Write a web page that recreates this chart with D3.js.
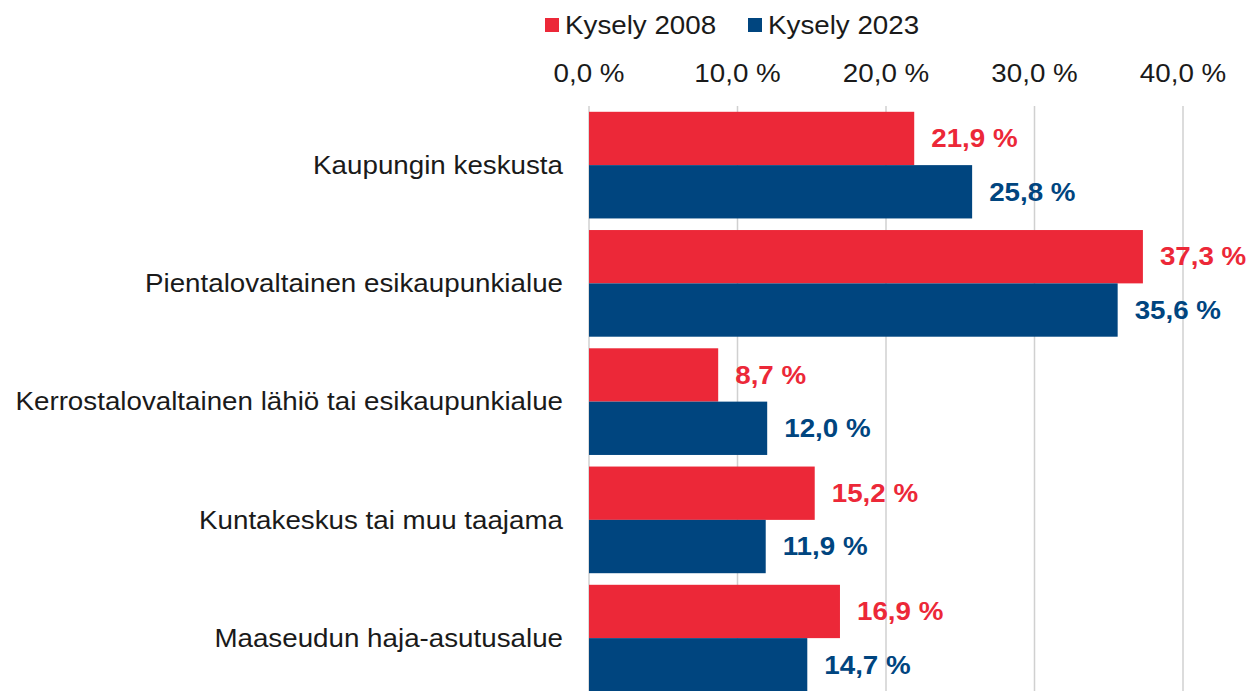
<!DOCTYPE html>
<html>
<head>
<meta charset="utf-8">
<script src="https://cdn.jsdelivr.net/npm/d3@7"></script>
<style>
  body { margin: 0; background: #fff; }
  text { font-family: "Liberation Sans", Arial, sans-serif; }
</style>
</head>
<body>
<div id="chart"></div>
<script>
// categories and series
const categories = [
  "Kaupungin keskusta",
  "Pientalovaltainen esikaupunkialue",
  "Kerrostalovaltainen lähiö tai esikaupunkialue",
  "Kuntakeskus tai muu taajama",
  "Maaseudun haja-asutusalue"
];
const seriesNames = ["Kysely 2008", "Kysely 2023"];
const values2008 = [21.9, 37.3, 8.7, 15.2, 16.9];
const values2023 = [25.8, 35.6, 12.0, 11.9, 14.7];
const tickValues = [0, 10, 20, 30, 40];

const colors = ["#EC2838", "#00457F"];

const width = 1249, height = 691;
const stretch = 1.11;   // text in the original is a bit wider than normal

const svg = d3.select("#chart").append("svg")
  .attr("width", width)
  .attr("height", height);

const x = d3.scaleLinear().domain([0, 40]).range([589, 1183]);

const y = d3.scaleBand()
  .domain(categories)
  .range([106, 106 + 5 * 118.25])
  .paddingInner(0.098)
  .paddingOuter(0.049);

const ySub = d3.scaleBand()
  .domain(seriesNames)
  .range([0, y.bandwidth()]);

const fmt = v => d3.format(".1f")(v).replace(".", ",") + " %";

// place a text at (px,py) and stretch it horizontally
function place(sel, px, py) {
  sel.attr("x", 0).attr("y", 0)
    .attr("transform", (d, i) => `translate(${px(d, i)},${py(d, i)}) scale(${stretch},1)`);
}

// gridlines
svg.append("g")
  .selectAll("line")
  .data(tickValues)
  .join("line")
  .attr("x1", d => x(d)).attr("x2", d => x(d))
  .attr("y1", 106).attr("y2", height)
  .attr("stroke", "#d0d0d0")
  .attr("stroke-width", 1.5);

// top axis labels
svg.append("g").selectAll("text")
  .data(tickValues)
  .join("text")
  .attr("text-anchor", "middle")
  .attr("fill", "#1a1a1a")
  .style("font-size", "25px")
  .text(fmt)
  .call(place, d => x(d), () => 82);

// bars
const data = categories.map((c, i) => ({ cat: c, vals: [values2008[i], values2023[i]] }));
const groups = svg.append("g").selectAll("g")
  .data(data)
  .join("g")
  .attr("transform", d => `translate(0,${y(d.cat)})`);

groups.selectAll("rect")
  .data(d => d.vals.map((v, j) => ({ v, s: seriesNames[j], j })))
  .join("rect")
  .attr("x", x(0))
  .attr("y", d => ySub(d.s))
  .attr("width", d => x(d.v) - x(0))
  .attr("height", ySub.bandwidth())
  .attr("fill", d => colors[d.j]);

groups.selectAll("text.val")
  .data(d => d.vals.map((v, j) => ({ v, s: seriesNames[j], j })))
  .join("text")
  .attr("class", "val")
  .attr("dy", "0.35em")
  .attr("fill", d => colors[d.j])
  .style("font-size", "25px")
  .style("font-weight", "bold")
  .text(d => fmt(d.v))
  .call(place, d => x(d.v) + 17, d => ySub(d.s) + ySub.bandwidth() / 2);

// category labels
svg.append("g").selectAll("text")
  .data(categories)
  .join("text")
  .attr("dy", "0.35em")
  .attr("text-anchor", "end")
  .attr("fill", "#1a1a1a")
  .style("font-size", "25px")
  .text(d => d)
  .call(place, () => 563, d => y(d) + y.bandwidth() / 2);

// legend
const legendX = [545, 748];
const legend = svg.append("g").selectAll("g")
  .data(seriesNames)
  .join("g")
  .attr("transform", (d, i) => `translate(${legendX[i]},0)`);
legend.append("rect")
  .attr("x", 0).attr("y", 18)
  .attr("width", 14).attr("height", 14)
  .attr("fill", (d, i) => colors[i]);
legend.append("text")
  .attr("fill", "#1a1a1a")
  .style("font-size", "25px")
  .text(d => d)
  .call(place, () => 20, () => 34);
</script>
</body>
</html>
